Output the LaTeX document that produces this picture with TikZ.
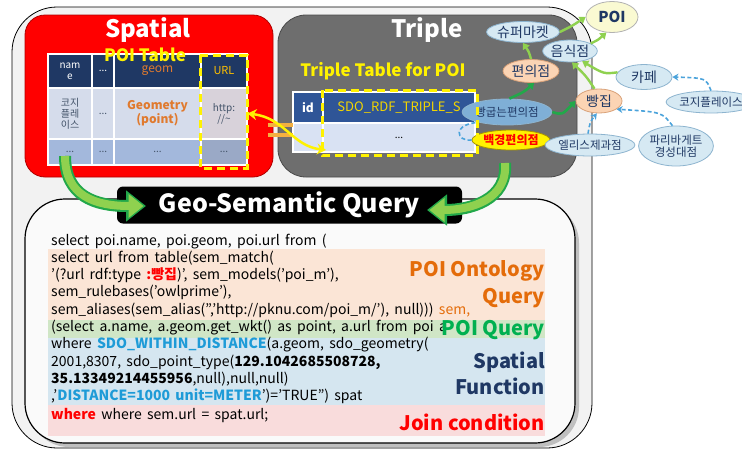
\documentclass[tikz,border=0pt]{standalone}
\usepackage{fontspec}
\setmainfont{Noto Sans CJK KR}
\usetikzlibrary{shapes.geometric,arrows.meta}

\definecolor{bgc}{HTML}{F2F2F2}
\definecolor{redc}{HTML}{FF0000}
\definecolor{redbd}{HTML}{B00000}
\definecolor{hdr}{HTML}{1F3864}
\definecolor{rowa}{HTML}{D5DCEB}
\definecolor{rowau}{HTML}{D8D2DA}
\definecolor{rowb}{HTML}{A3B8DC}
\definecolor{rowbu}{HTML}{9AA9C6}
\definecolor{grayc}{HTML}{6E6E6E}
\definecolor{graybd}{HTML}{4A4A4A}
\definecolor{thdr}{HTML}{2F5597}
\definecolor{trow}{HTML}{D9E2F3}
\definecolor{yelc}{HTML}{FFF200}
\definecolor{goldc}{HTML}{F2D400}
\definecolor{geomc}{HTML}{E07A2E}
\definecolor{urlc}{HTML}{FFC000}
\definecolor{cellt}{HTML}{44546A}
\definecolor{lgc}{HTML}{8FD14F}
\definecolor{dgc}{HTML}{22A84A}
\definecolor{bdash}{HTML}{4BA3DB}
\definecolor{elfill}{HTML}{D6E9F3}
\definecolor{elbd}{HTML}{8DB4CF}
\definecolor{peach}{HTML}{FBD4B4}
\definecolor{peachbd}{HTML}{D9A27A}
\definecolor{poifill}{HTML}{FAFAD2}
\definecolor{bakefill}{HTML}{7FAFD6}
\definecolor{navyt}{HTML}{1F3864}
\definecolor{bandO}{HTML}{FBE5D6}
\definecolor{bandG}{HTML}{D0E6C6}
\definecolor{bandB}{HTML}{D5E6F0}
\definecolor{bandP}{HTML}{F9DCDC}
\definecolor{labO}{HTML}{E46C0A}
\definecolor{labG}{HTML}{00B050}
\definecolor{labB}{HTML}{1F3864}
\definecolor{sdoc}{HTML}{1E9BD7}
\definecolor{orbar}{HTML}{F4B040}
\definecolor{shadowc}{HTML}{BFBFBF}

% query text: slightly wider word spaces
\newcommand\queryfont{\fontsize{14}{16}\selectfont\spaceskip=0.38em plus 0.1em\relax}

\tikzset{
  cell/.style={draw=white, line width=1.2pt, align=center, inner sep=0pt,
    font=\fontsize{10}{11}\selectfont},
  ybox/.style={draw=yelc, line width=3pt, dash pattern=on 8pt off 5pt},
  cls/.style={ellipse, draw=elbd, line width=0.8pt, fill=elfill, text=navyt,
    inner sep=0pt, font=\fontsize{14}{15}\selectfont},
  inst/.style={cls, font=\fontsize{11.5}{12.5}\selectfont, align=center},
  lg/.style={draw=lgc, line width=2.4pt, -{Triangle[width=8pt,length=6pt]}},
  dg/.style={draw=dgc, line width=2.6pt, -{Triangle[width=8pt,length=6pt]}},
  bd/.style={draw=bdash, line width=1.6pt, dash pattern=on 4pt off 2.5pt,
    -{Stealth[width=7pt,length=6pt]}},
  qline/.style={anchor=base west, inner sep=0pt, font=\queryfont},
  qlab/.style={anchor=base east, inner sep=0pt, font=\bfseries\fontsize{20}{22}\selectfont},
  fatout/.style={draw=dgc, line width=12pt, -{Triangle[width=30pt,length=20pt]}},
  fatin/.style={draw=lgc, line width=8pt, -{Triangle[width=23pt,length=15pt]}},
}

\begin{document}
\begin{tikzpicture}[x=1pt,y=-1pt]
\useasboundingbox (0,0) rectangle (742,450);
\fill[white] (0,0) rectangle (742,450);

% outer frame
\draw[line width=0.8pt, fill=bgc, rounded corners=45] (12,7) rectangle (592,448);

% ---------------- Spatial block ----------------
\draw[fill=redc, draw=redbd, line width=0.8pt, rounded corners=20] (25,15) rectangle (273,177);
\node[text=white, font=\bfseries\fontsize{24}{26}\selectfont] (spt) at (148,30) {Spatial};

\node[cell, fill=hdr, text=white, minimum width=44pt, minimum height=34pt] (h1) at (70,71) {nam\\e};
\node[cell, fill=hdr, text=white, minimum width=22pt, minimum height=34pt] (h2) at (103,71) {...};
\node[cell, fill=hdr, text=geomc, minimum width=87pt, minimum height=34pt, font=\fontsize{12}{13}\selectfont] (h3) at (157.5,71) {geom};
\node[cell, fill=hdr, text=urlc, minimum width=46pt, minimum height=34pt, font=\fontsize{11}{12}\selectfont] (h4) at (224,71) {URL};

\node[cell, fill=rowa, text=cellt, minimum width=44pt, minimum height=51pt] (a1) at (70,113.5) {코지\\플레\\이스};
\node[cell, fill=rowa, text=cellt, minimum width=22pt, minimum height=51pt] (a2) at (103,113.5) {...};
\node[cell, fill=rowa, text=geomc, minimum width=87pt, minimum height=51pt, font=\bfseries\fontsize{12}{14}\selectfont] (a3) at (157.5,113.5) {Geometry\\(point)};
\node[cell, fill=rowau, text=cellt, minimum width=46pt, minimum height=51pt] (a4) at (224,113.5) {http:\\//\textasciitilde};

\node[cell, fill=rowb, text=cellt, minimum width=44pt, minimum height=26pt] (b1) at (70,152) {...};
\node[cell, fill=rowb, text=cellt, minimum width=22pt, minimum height=26pt] (b2) at (103,152) {...};
\node[cell, fill=rowb, text=cellt, minimum width=87pt, minimum height=26pt] (b3) at (157.5,152) {...};
\node[cell, fill=rowbu, text=cellt, minimum width=46pt, minimum height=26pt] (b4) at (224,152) {...};

\node[text=yelc, font=\bfseries\fontsize{17}{18}\selectfont] (poitab) at (145,55) {POI Table};
\draw[ybox] (200,55) rectangle (247,168);

% ---------------- Triple block ----------------
\draw[fill=grayc, draw=graybd, line width=0.8pt, rounded corners=28] (278,15) rectangle (577,177);
\node[text=white, font=\bfseries\fontsize{24}{26}\selectfont] (tpl) at (427,30) {Triple};
\node[text=yelc, font=\bfseries\fontsize{17}{18}\selectfont] (ttab) at (383,71) {Triple Table for POI};

\node[cell, fill=thdr, text=white, minimum width=30pt, minimum height=31pt, font=\bfseries\fontsize{12}{13}\selectfont] (tid) at (308,107.5) {id};
\node[cell, fill=thdr, text=goldc, minimum width=152pt, minimum height=31pt, font=\fontsize{13}{14}\selectfont] (tsdo) at (399,107.5) {SDO\_RDF\_TRIPLE\_S};
\node[cell, fill=trow, minimum width=30pt, minimum height=29pt] (tid2) at (308,137.5) {};
\node[cell, fill=trow, text=black, minimum width=152pt, minimum height=29pt] (tsdo2) at (399,137.5) {...};

% ---------------- query block ----------------
\fill[shadowc, rounded corners=40] (29,203) rectangle (579,447);
\draw[fill=white!96!gray, line width=1.2pt, rounded corners=40] (25,199) rectangle (575,443);

\fill[bandO] (48,249) rectangle (545,320);
\fill[bandG] (48,320) rectangle (545,338);
\fill[bandB] (48,338) rectangle (545,405);
\fill[bandP] (48,405) rectangle (545,436);

\node[qline] (q1) at (51,245) {select poi.name, poi.geom, poi.url from (};
\node[qline] (q2) at (51,262.3) {select url from table(sem\_match(};
\node[qline] (q3) at (51,279.6) {'(?url rdf:type \textcolor{redc}{\bfseries :빵집})', sem\_models('poi\_m'),};
\node[qline] (q4) at (51,296.9) {sem\_rulebases('owlprime'),};
\node[qline] (q5) at (51,314.2) {sem\_aliases(sem\_alias('','http://pknu.com/poi\_m/'), null))) \textcolor{labO}{sem,}};
\node[qline] (q6) at (51,331.5) {(select a.name, a.geom.get\_wkt() as point, a.url from poi a};
\node[qline] (q7) at (51,348.8) {where \textcolor{sdoc}{\bfseries SDO\_WITHIN\_DISTANCE}(a.geom, sdo\_geometry(};
\node[qline] (q8) at (51,366.1) {2001,8307, sdo\_point\_type(\textbf{129.1042685508728,}};
\node[qline] (q9) at (51,383.4) {\textbf{35.13349214455956},null),null,null)};
\node[qline] (q10) at (51,400.7) {,'\textcolor{sdoc}{\bfseries DISTANCE=1000 unit=METER}')='TRUE'') spat};
\node[qline] (q11) at (51,419) {\textcolor{redc}{\bfseries where} where sem.url = spat.url;};

\node[qlab, text=labO] (l1) at (545,276) {POI Ontology};
\node[qlab, text=labO] (l2) at (545,303) {Query};
\node[qlab, text=labG] (l3) at (545,335) {POI Query};
\node[qlab, text=labB] (l4) at (545,368) {Spatial};
\node[qlab, text=labB] (l5) at (545,394) {Function};
\node[qlab, text=redc] (l6) at (545,430) {Join condition};

\node[fill=black, rounded corners=6, minimum width=345pt, minimum height=37pt,
      text=white, font=\bfseries\fontsize{25}{27}\selectfont] (gsq) at (289.5,205) {Geo-Semantic Query};

% ---------------- POI ontology graph ----------------
\node[cls, fill=poifill, draw=gray!60, minimum width=52pt, minimum height=31pt,
      font=\bfseries\fontsize{15}{16}\selectfont] (poi) at (612,17) {POI};
\node[cls, minimum width=68pt, minimum height=21pt] (super) at (523,32) {슈퍼마켓};
\node[cls, minimum width=50pt, minimum height=22pt] (food) at (570,51) {음식점};
\node[cls, fill=peach, draw=peachbd, minimum width=56pt, minimum height=23pt] (conv) at (531,71) {편의점};
\node[cls, minimum width=56pt, minimum height=25pt] (cafe) at (644,77) {카페};
\node[cls, fill=peach, draw=peachbd, minimum width=46pt, minimum height=24pt] (bread) at (599,101) {빵집};
\node[inst, fill=bakefill, draw=elbd, minimum width=76pt, minimum height=26pt] (bake) at (507,112) {빵굽는편의점};
\node[inst, fill=yelc, draw=goldc!70!black, text=redc, minimum width=78pt, minimum height=20pt,
      font=\bfseries\fontsize{12}{13}\selectfont] (baek) at (511,140) {백경편의점};
\node[inst, minimum width=72pt, minimum height=22pt] (ellis) at (590,145) {엘리스제과점};
\node[inst, minimum width=66pt, minimum height=22pt] (cozy) at (711,102) {코지플레이스};
\node[inst, minimum width=72pt, minimum height=40pt] (paris) at (676,146) {파리바게트\\경성대점};

\draw[lg] (super.east) .. controls (572,26) .. (poi.west);
\draw[lg] (food.20) .. controls (598,40) .. (poi.250);
\draw[lg] (conv.north) .. controls (529,52) .. (super.south);
\draw[lg] (cafe.170) .. controls (604,74) .. (food.-40);
\draw[lg] (bread.110) .. controls (586,76) .. (food.-80);
\draw[dg] (bake.80) .. controls (524,92) .. (conv.-75);
\draw[dg] (bake.east) .. controls (562,115) .. (bread.west);
\draw[bd] (cozy.north) .. controls (706,78) .. (cafe.east);
\draw[bd] (paris.100) .. controls (662,112) .. (bread.-25);
\draw[bd] (ellis.100) .. controls (590,122) .. (bread.-100);
\draw[draw=bdash, line width=1.6pt, dash pattern=on 4pt off 2.5pt]
  (baek.west) .. controls (456,142) and (452,124) .. (bake.200);

\draw[ybox] (322,90) rectangle (477,155);

% ---------------- link between the tables ----------------
\draw[orbar, line width=4pt] (268,125) -- (293,125);
\draw[orbar, line width=4pt] (268,135) -- (293,135);
\coordinate (lnk) at (326,150);
\draw[yelc, line width=2.5pt, {Stealth[width=11pt,length=9pt]}-{Stealth[width=11pt,length=9pt]}]
  (a4.east) .. controls (285,118) and (292,146) .. (lnk);

% ---------------- feeds into the query ----------------
\coordinate (fl0) at (65,156);
\coordinate (fl1) at (146,206);
\draw[fatout] (fl0) .. controls (65,196) and (95,206) .. (fl1);
\draw[fatin, shorten >=2.5pt] (fl0) .. controls (65,196) and (95,206) .. (fl1);
\coordinate (fr0) at (505,163);
\coordinate (fr1) at (427,210);
\draw[fatout] (fr0) .. controls (508,200) and (470,210) .. (fr1);
\draw[fatin, shorten >=2.5pt] (fr0) .. controls (508,200) and (470,210) .. (fr1);
\end{tikzpicture}
\end{document}
